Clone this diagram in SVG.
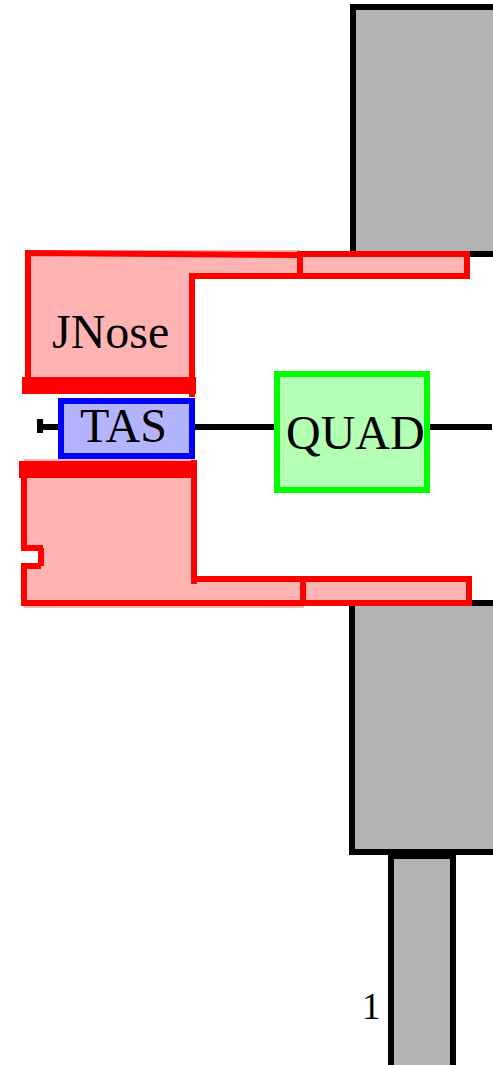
<svg xmlns="http://www.w3.org/2000/svg" width="493" height="1065" viewBox="0 0 493 1065">
<style>
.g{fill:#b3b3b3;stroke:#000;stroke-width:6;stroke-linejoin:miter}
.r{fill:none;stroke:#f00;stroke-width:6;stroke-linecap:square;stroke-linejoin:miter}
.rf{fill:#ffb3b3;stroke:none}
.b{fill:#f00;stroke:none}
text{font-family:"Liberation Serif","Times New Roman",serif;font-size:48px;fill:#000}
</style>
<rect width="493" height="1065" fill="#fff"/>
<g id="connectors">
<path d="M40 427H492" fill="none" stroke="#000" stroke-width="6"/>
<path d="M40 419V433" fill="none" stroke="#000" stroke-width="6"/>
</g>
<g id="yoke-top"><rect class="g" x="353" y="7" width="146" height="247"/></g>
<g id="yoke-bottom"><rect class="g" x="352" y="603" width="146" height="249"/></g>
<g id="column"><rect class="g" x="391" y="856" width="62" height="215"/></g>
<g id="jnose-top">
<path class="rf" d="M28 250H300V276H192V380H28Z"/>
<path class="rf" d="M300 254H467V276H300Z"/>
<path class="r" d="M28 379V253L300 255"/>
<path class="r" d="M192 394V276H300"/>
<path class="r" d="M300 254H467V276H300Z"/>
<rect class="b" x="22" y="377" width="174" height="17"/>
<text x="52" y="348">JNose</text>
</g>
<g id="tas">
<rect x="61" y="401" width="131" height="55" fill="#b3b3ff" stroke="#00f" stroke-width="6"/>
<text x="80" y="442">TAS</text>
</g>
<g id="quad">
<rect x="277" y="374" width="150" height="116" fill="#b3ffb3" stroke="#0f0" stroke-width="6"/>
<text x="286" y="449">QUAD</text>
</g>
<g id="jnose-bottom">
<path class="rf" d="M24 459H194V579H304V608H24V566H41V548H24Z"/>
<path class="r" d="M194 463V581M194 579H303"/>
<path class="r" d="M24 478V548H40M41 551V563M38 566H24V603H303"/>
<path class="rf" d="M303 579H469V603H303Z"/>
<path class="r" d="M303 579H469V603H303Z"/>
<rect class="b" x="19" y="461" width="178" height="17"/>
</g>
<text id="label-1" x="362" y="1019" style="font-size:37px">1</text>
</svg>
